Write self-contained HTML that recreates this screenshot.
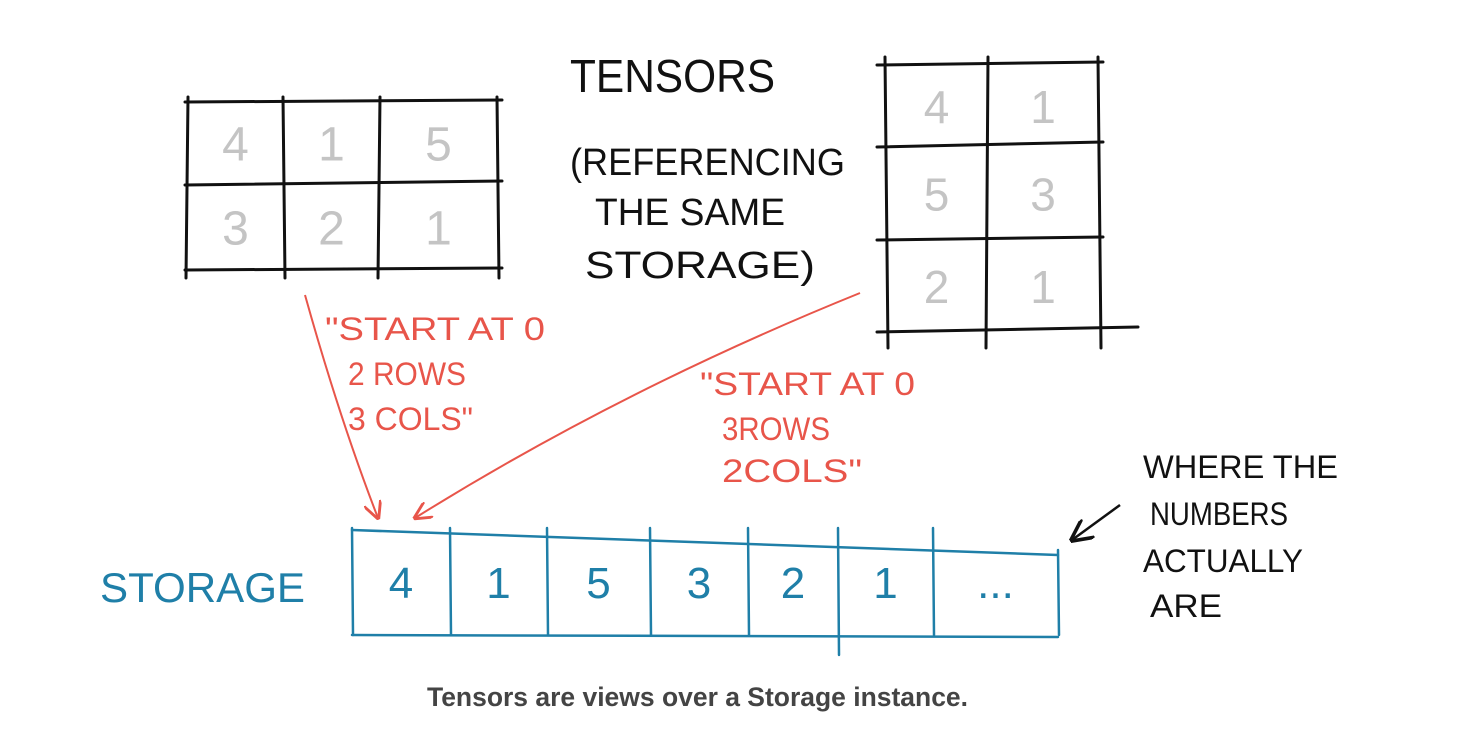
<!DOCTYPE html>
<html><head><meta charset="utf-8"><style>
html,body{margin:0;padding:0;background:#fff;width:1467px;height:751px;overflow:hidden}
svg{display:block}
.hand{font-family:"Liberation Sans",sans-serif;}
</style></head><body>
<svg id="s" width="1467" height="751" viewBox="0 0 1467 751">
<defs>
<marker id="ar" viewBox="0 0 10 10" refX="9" refY="5" markerWidth="9" markerHeight="9" orient="auto"><path d="M0,0 L10,5 L0,10" fill="none" stroke="#e8554a" stroke-width="1.6"/></marker>
<marker id="ab" viewBox="0 0 10 10" refX="9" refY="5" markerWidth="9" markerHeight="9" orient="auto"><path d="M0,0 L10,5 L0,10" fill="none" stroke="#111" stroke-width="1.6"/></marker>
</defs>
<g id="g"></g>
<text class="hand" x="570" y="92" font-size="46" fill="#111" textLength="205" lengthAdjust="spacingAndGlyphs">TENSORS</text>
<g class="hand" font-size="38" fill="#111">
<text x="570" y="175" textLength="275" lengthAdjust="spacingAndGlyphs">(REFERENCING</text>
<text x="595" y="225" textLength="190" lengthAdjust="spacingAndGlyphs">THE SAME</text>
<text x="585" y="278" textLength="230" lengthAdjust="spacingAndGlyphs">STORAGE)</text>
</g>
<g class="hand" font-size="32" fill="#e8554a">
<text x="325" y="340" textLength="220" lengthAdjust="spacingAndGlyphs">"START AT 0</text>
<text x="348" y="385" textLength="118" lengthAdjust="spacingAndGlyphs">2 ROWS</text>
<text x="348" y="430" textLength="125" lengthAdjust="spacingAndGlyphs">3 COLS"</text>
</g>
<g class="hand" font-size="32" fill="#e8554a">
<text x="700" y="395" textLength="215" lengthAdjust="spacingAndGlyphs">"START AT 0</text>
<text x="722" y="440" textLength="108" lengthAdjust="spacingAndGlyphs">3ROWS</text>
<text x="722" y="482" textLength="140" lengthAdjust="spacingAndGlyphs">2COLS"</text>
</g>
<text class="hand" x="100" y="602" font-size="42" fill="#1f7fa8" textLength="205" lengthAdjust="spacingAndGlyphs">STORAGE</text>
<g class="hand" font-size="32" fill="#111">
<text x="1143" y="478" textLength="195" lengthAdjust="spacingAndGlyphs">WHERE THE</text>
<text x="1150" y="525" textLength="138" lengthAdjust="spacingAndGlyphs">NUMBERS</text>
<text x="1143" y="572" textLength="160" lengthAdjust="spacingAndGlyphs">ACTUALLY</text>
<text x="1150" y="617" textLength="72" lengthAdjust="spacingAndGlyphs">ARE</text>
</g>
<path d="M305,295 Q340,420 378,518" fill="none" stroke="#e8554a" stroke-width="2" marker-end="url(#ar)"/>
<path d="M860,293 Q620,390 415,518" fill="none" stroke="#e8554a" stroke-width="2" marker-end="url(#ar)"/>
<path d="M1120,505 L1072,540" fill="none" stroke="#111" stroke-width="2.5" marker-end="url(#ab)"/>
<text x="427" y="706" font-family="Liberation Sans, sans-serif" font-weight="bold" font-size="27" fill="#444" textLength="541" lengthAdjust="spacingAndGlyphs">Tensors are views over a Storage instance.</text>
</svg>
<script>
const storageValues = ["4","1","5","3","2","1","..."];
const leftRows = 2, leftCols = 3;
const rightRows = 3, rightCols = 2;
const NS = "http://www.w3.org/2000/svg";
const g = document.getElementById('g');
function line(x1,y1,x2,y2,c,w,name){
  const l=document.createElementNS(NS,'line');
  l.setAttribute('x1',x1);l.setAttribute('y1',y1);l.setAttribute('x2',x2);l.setAttribute('y2',y2);
  l.setAttribute('stroke',c);l.setAttribute('stroke-width',w);l.setAttribute('stroke-linecap','round');
  
  
  g.appendChild(l);
}
function txt(x,y,s,c,fs,name){
  const t=document.createElementNS(NS,'text');
  t.setAttribute('x',x);t.setAttribute('y',y);t.setAttribute('fill',c);
  t.setAttribute('font-size',fs);t.setAttribute('text-anchor','middle');
  t.setAttribute('font-family','Liberation Sans, sans-serif');
  t.textContent=s;
  
  
  g.appendChild(t);
}
const lx=[188,283,380,497], ly=[102,183,270];
lx.forEach((x,i)=>line(x,ly[0]-5,x+(i%2?2:-2),ly[2]+8,'#111',3,'left-grid-vline'));
ly.forEach((y,i)=>line(lx[0]-3,y+(i==1?2:0),lx[3]+5,y-2,'#111',3,'left-grid-hline'));
for(let r=0;r<leftRows;r++)for(let c=0;c<leftCols;c++){
  txt((lx[c]+lx[c+1])/2,(ly[r]+ly[r+1])/2+18,storageValues[r*leftCols+c],'#c4c4c4',48,'left-tensor-cell');
}
const rx=[885,988,1098], ry=[65,145,240,330];
rx.forEach((x,i)=>line(x,ry[0]-8,x+(i==1?-2:3),ry[3]+18,'#111',3,'right-grid-vline'));
ry.forEach((y,i)=>line(rx[0]-8,y+(i%2?2:0),rx[2]+(i==3?40:5),y-3,'#111',3,'right-grid-hline'));
for(let r=0;r<rightRows;r++)for(let c=0;c<rightCols;c++){
  txt((rx[c]+rx[c+1])/2,(ry[r]+ry[r+1])/2+18,storageValues[r*rightCols+c],'#c4c4c4',46,'right-tensor-cell');
}
const sx=[352,450,547,650,748,838,933,1058], sTop=530, sBot=635;
line(352,sTop,1058,sTop+25,'#1f7fa8',2.5,'storage-top');
line(352,sBot,1058,sBot+2,'#1f7fa8',2.5,'storage-bottom');
sx.forEach((x,i)=>line(x,sTop+(i==7?20:-2),x+1,(i==5?sBot+20:sBot),'#1f7fa8',2.5,'storage-divider'));
storageValues.forEach((v,i)=>txt((sx[i]+sx[i+1])/2,598,v,'#1f7fa8',44,'storage-cell'));
</script>
</body></html>
